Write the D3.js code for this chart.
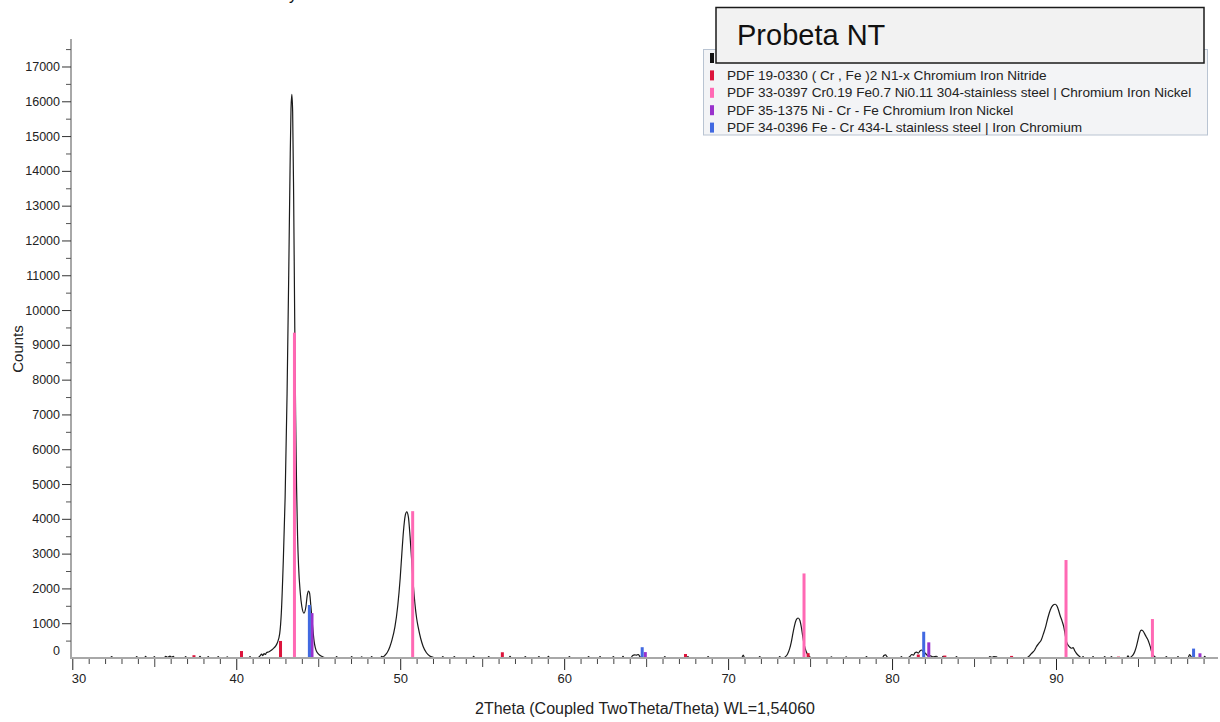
<!DOCTYPE html>
<html>
<head>
<meta charset="utf-8">
<script src="https://cdn.jsdelivr.net/npm/d3@7"></script>
<style>
  html, body { margin: 0; padding: 0; background: #fff; }
  svg { display: block; font-family: "Liberation Sans", Arial, Helvetica, sans-serif; }
</style>
</head>
<body>
<svg id="chart" width="1220" height="722"></svg>
<script>
// ---------------- DATA ----------------
// Measured diffraction profile: [2Theta, Counts]
const profile = [
  [30.0,0],[32.3,0],[32.4,40],[32.5,0],[33.85,0],[33.93,40],[34.0,0],[34.4,0],[34.47,45],[34.55,0],
  [34.95,0],[35.0,40],[35.08,0],[35.6,0],[35.7,50],[35.8,20],[35.96,55],[36.05,25],[36.16,45],[36.25,0],
  [36.85,0],[36.91,40],[37.0,0],[37.7,0],[37.79,45],[37.88,0],[38.22,0],[38.29,40],[38.36,0],
  [38.83,0],[38.9,40],[38.97,0],[39.38,0],[39.45,35],[39.52,0],[40.77,0],[40.84,40],[40.91,0],
  [41.3,0],[41.45,60],[41.55,110],[41.62,70],[41.7,130],[41.78,100],[41.85,160],[42.0,180],[42.16,230],
  [42.3,290],[42.4,340],[42.5,430],[42.65,700],[42.75,1300],[42.87,2800],[42.98,4600],[43.1,7600],
  [43.2,11000],[43.28,14000],[43.34,15800],[43.39,16200],[43.44,15700],[43.5,13300],[43.56,10000],
  [43.62,7000],[43.68,4900],[43.74,3500],[43.8,2650],[43.9,1900],[44.0,1480],[44.13,1290],[44.25,1480],
  [44.33,1800],[44.4,1925],[44.47,1870],[44.55,1500],[44.66,900],[44.75,480],[44.82,300],[44.92,170],
  [45.1,80],[45.3,30],[45.5,0],
  [46.05,0],[46.12,40],[46.2,0],[46.97,0],[47.04,40],[47.11,0],[47.58,0],[47.65,35],[47.72,0],
  [48.19,0],[48.26,40],[48.33,0],[48.8,0],[48.87,50],[48.95,30],[49.05,70],[49.2,150],[49.37,325],
  [49.5,520],[49.68,900],[49.85,1500],[50.0,2300],[50.1,3000],[50.2,3650],[50.3,4080],[50.4,4200],
  [50.5,4050],[50.6,3500],[50.7,2800],[50.8,2100],[50.9,1550],[51.0,1150],[51.1,880],[51.25,560],
  [51.4,330],[51.6,150],[51.8,60],[52.0,20],[52.2,0],
  [52.52,0],[52.6,40],[52.68,0],[53.22,0],[53.3,40],[53.38,0],[54.4,0],[54.48,45],[54.56,0],
  [55.32,0],[55.4,40],[55.48,0],[56.62,0],[56.7,45],[56.78,0],[57.55,0],[57.63,40],[57.71,0],
  [58.38,0],[58.46,40],[58.54,0],[58.96,0],[59.04,45],[59.12,0],[60.24,0],[60.32,40],[60.4,0],
  [61.41,0],[61.49,40],[61.57,0],[62.11,0],[62.19,40],[62.27,0],[62.92,0],[63.0,40],[63.08,0],
  [63.51,0],[63.59,45],[63.67,0],[64.05,0],[64.18,70],[64.3,90],[64.42,80],[64.52,100],[64.62,40],[64.72,0],
  [66.06,0],[66.14,40],[66.22,0],[67.47,0],[67.55,40],[67.63,0],[68.7,0],[68.78,40],[68.86,0],
  [70.82,0],[70.92,80],[71.02,0],[71.85,0],[71.93,40],[72.01,0],[73.07,0],[73.15,40],[73.23,0],
  [73.35,0],[73.5,40],[73.62,110],[73.75,260],[73.85,450],[73.95,700],[74.05,930],[74.15,1090],
  [74.27,1150],[74.38,1080],[74.48,850],[74.57,570],[74.65,360],[74.75,200],[74.85,100],[74.97,40],[75.1,0],
  [76.22,0],[76.3,35],[76.38,0],[77.12,0],[77.2,35],[77.28,0],[78.36,0],[78.44,40],[78.52,0],
  [79.4,0],[79.5,70],[79.6,90],[79.7,30],[79.8,0],[80.49,0],[80.57,40],[80.65,0],
  [80.95,0],[81.1,50],[81.2,100],[81.3,80],[81.4,150],[81.5,170],[81.6,140],[81.7,200],[81.8,230],
  [81.9,180],[82.0,150],[82.1,100],[82.2,60],[82.35,60],[82.5,30],[82.7,50],[82.85,0],
  [83.03,0],[83.11,45],[83.19,0],[83.85,0],[83.93,40],[84.01,0],[85.88,0],[85.96,40],[86.1,20],
  [86.2,40],[86.37,35],[86.45,0],
  [88.2,0],[88.35,50],[88.45,100],[88.55,150],[88.7,230],[88.8,325],[88.95,420],[89.1,520],[89.22,680],
  [89.37,900],[89.5,1150],[89.65,1380],[89.8,1510],[89.95,1545],[90.05,1500],[90.15,1380],[90.25,1220],
  [90.37,1060],[90.47,900],[90.55,700],[90.62,500],[90.72,380],[90.82,320],[90.94,280],[91.04,300],
  [91.15,200],[91.3,100],[91.45,40],[91.57,0],
  [91.65,40],[91.73,0],[92.18,0],[92.26,40],[92.34,0],[92.89,0],[92.97,40],[93.05,0],
  [93.3,0],[93.38,40],[93.46,0],
  [94.3,0],[94.39,60],[94.48,0],[94.6,40],[94.7,90],[94.8,180],[94.9,325],[95.0,520],[95.1,720],
  [95.2,800],[95.3,780],[95.4,700],[95.5,610],[95.61,517],[95.7,400],[95.75,325],[95.82,200],[95.91,90],
  [96.05,30],[96.2,0],
  [96.65,0],[96.73,40],[96.81,0],[97.36,0],[97.44,40],[97.52,0],[98.05,0],[98.15,100],[98.25,30],
  [98.35,0],[98.99,0],[99.07,45],[99.15,0],[99.88,0]
];

// Reference patterns (stick positions [2Theta, Counts])
const pdf19_0330 = [[37.42,80],[40.32,200],[42.7,490],[56.23,165],[67.4,115],[74.88,140],[81.6,100],[83.22,70],[87.29,60],[93.81,40],[98.87,30]];
const pdf33_0397 = [[43.55,9350],[50.76,4220],[74.63,2430],[90.61,2816],[95.88,1120]];
const pdf35_1375 = [[44.62,1290],[64.95,170],[82.24,450],[98.78,135]];
const pdf34_0396 = [[44.46,1523],[64.76,310],[81.93,755],[98.39,270]];

const legendLabels = [
  "",
  "PDF 19-0330 ( Cr , Fe )2 N1-x Chromium Iron Nitride",
  "PDF 33-0397 Cr0.19 Fe0.7 Ni0.11 304-stainless steel | Chromium Iron Nickel",
  "PDF 35-1375 Ni - Cr - Fe Chromium Iron Nickel",
  "PDF 34-0396 Fe - Cr 434-L stainless steel | Iron Chromium"
];
const legendColors = ["#111111", "#dc143c", "#ff69b4", "#9932cc", "#4169e1"];

const xMajorTicks = [30, 40, 50, 60, 70, 80, 90];
const yMajorTicks = [0,1000,2000,3000,4000,5000,6000,7000,8000,9000,10000,11000,12000,13000,14000,15000,16000,17000];
const sampleTitle = "Probeta NT";
const xTitle = "2Theta (Coupled TwoTheta/Theta) WL=1,54060";
const yTitle = "Counts";

// ---------------- DRAW ----------------
const svg = d3.select("#chart");
const x = d3.scaleLinear().domain([30, 99.88]).range([72.3, 1218]);
const y = d3.scaleLinear().domain([0, 17790]).range([658, 39]);

// cut-off title glyph at very top (as in the reference)
svg.append("text").attr("x", 289).attr("y", -0.5).attr("font-size", 16).attr("fill", "#111").text("y");

// profile
const line = d3.line().x(d => x(d[0])).y(d => y(d[1])).curve(d3.curveMonotoneX);
svg.append("path").datum(profile)
  .attr("d", line).attr("fill", "none").attr("stroke", "#1a1a1a").attr("stroke-width", 1.2);

// sticks
const stickSets = [pdf19_0330, pdf33_0397, pdf35_1375, pdf34_0396];
const stickColors = legendColors.slice(1);
stickSets.forEach((set, i) => {
  svg.append("g").selectAll("rect").data(set).join("rect")
    .attr("x", d => x(d[0]) - 1.5)
    .attr("y", d => y(d[1]))
    .attr("width", 3)
    .attr("height", d => y(0) - y(d[1]))
    .attr("fill", stickColors[i]);
});

// axes lines
svg.append("line").attr("x1", 71).attr("x2", 1218).attr("y1", 658).attr("y2", 658)
  .attr("stroke", "#a8a8a8").attr("stroke-width", 2);
svg.append("line").attr("x1", 71).attr("x2", 71).attr("y1", 39).attr("y2", 659)
  .attr("stroke", "#a8a8a8").attr("stroke-width", 2);

function styleAxis(g, color) {
  g.select(".domain").remove();
  g.selectAll(".tick line").attr("stroke", color).attr("stroke-width", 1);
  g.selectAll(".tick text").attr("fill", "#222").attr("font-family", '"Liberation Sans", Arial, sans-serif');
}

// X axis ticks
const xMinor = d3.range(31, 100, 1).filter(v => v % 5 !== 0);
const xMid = [35, 45, 55, 65, 75, 85, 95];
svg.append("g").attr("transform", "translate(0,659)")
  .call(d3.axisBottom(x).tickValues(xMinor).tickSize(5).tickFormat(""))
  .call(g => styleAxis(g, "#444"));
svg.append("g").attr("transform", "translate(0,659)")
  .call(d3.axisBottom(x).tickValues(xMid).tickSize(8).tickFormat(""))
  .call(g => styleAxis(g, "#444"));
const gx = svg.append("g").attr("transform", "translate(0,659)")
  .call(d3.axisBottom(x).tickValues(xMajorTicks).tickSize(11).tickPadding(4).tickFormat(d3.format("d")))
  .call(g => styleAxis(g, "#222"));
gx.selectAll(".tick text").attr("font-size", 13);
gx.selectAll(".tick text").filter(d => d === 30).attr("text-anchor", "start").attr("dx", -1);

// Y axis ticks
const yMinor = d3.range(500, 17800, 1000);
svg.append("g").attr("transform", "translate(71,0)")
  .call(d3.axisLeft(y).tickValues(yMinor).tickSize(5).tickFormat(""))
  .call(g => styleAxis(g, "#555"));
const gy = svg.append("g").attr("transform", "translate(71,0)")
  .call(d3.axisLeft(y).tickValues(yMajorTicks).tickSize(9).tickPadding(2).tickFormat(d3.format("d")))
  .call(g => styleAxis(g, "#333"));
gy.selectAll(".tick text").attr("font-size", 12.5);
gy.selectAll(".tick").filter(d => d === 0).select("line").remove();
gy.selectAll(".tick").filter(d => d === 0).select("text").attr("dy", "-0.25em");

// axis titles
svg.append("text").attr("x", 645).attr("y", 714).attr("text-anchor", "middle")
  .attr("font-size", 16).attr("fill", "#222").text(xTitle);
svg.append("text").attr("transform", "translate(23,349) rotate(-90)").attr("text-anchor", "middle")
  .attr("font-size", 15).attr("fill", "#222").text(yTitle);

// legend
const lg = svg.append("g");
lg.append("rect").attr("x", 703.5).attr("y", 49.5).attr("width", 504).attr("height", 85.5)
  .attr("fill", "#f3f4f6").attr("stroke", "#b9c4d2").attr("stroke-width", 1);
legendLabels.forEach((lab, i) => {
  const cy = 58 + i * 17.4;
  lg.append("rect").attr("x", 710).attr("y", cy - 5).attr("width", 4).attr("height", 10).attr("fill", legendColors[i]);
  lg.append("text").attr("x", 727).attr("y", cy + 4.5).attr("font-size", 13.6).attr("fill", "#222").text(lab);
});

// sample title box
svg.append("rect").attr("x", 716).attr("y", 7.5).attr("width", 488).attr("height", 55.5)
  .attr("fill", "#f2f2f2").attr("stroke", "#1a1a1a").attr("stroke-width", 1.5);
svg.append("text").attr("x", 737).attr("y", 45).attr("font-size", 29).attr("fill", "#111").text(sampleTitle);
</script>
</body>
</html>
